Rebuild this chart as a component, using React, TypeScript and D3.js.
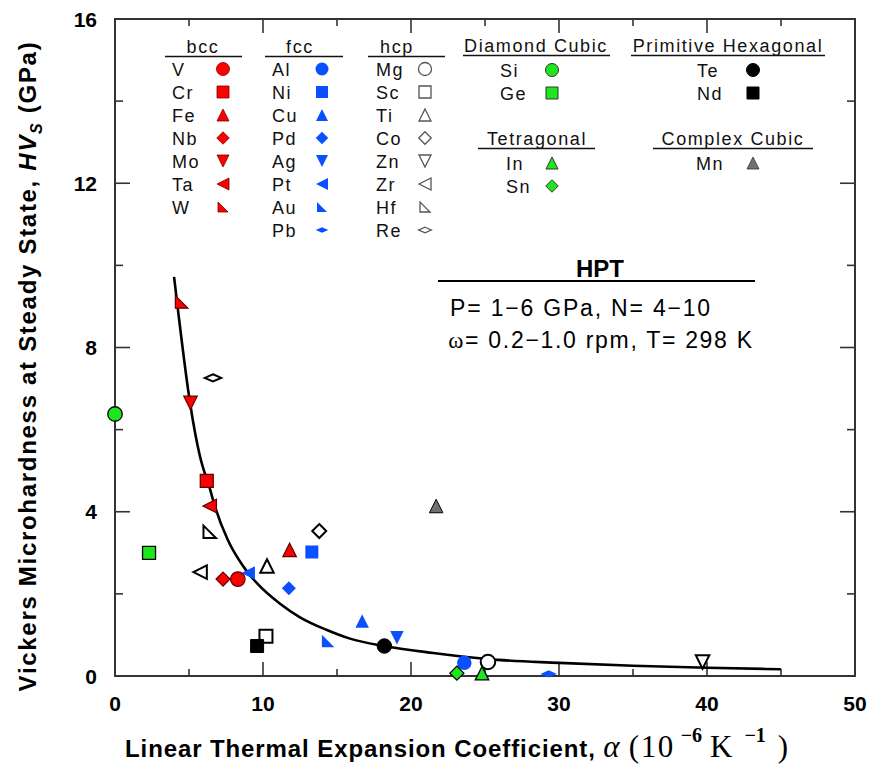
import React from "react";
import * as d3 from "d3";

// ---- data -------------------------------------------------------------
// Linear thermal expansion coefficient (10^-6 K^-1) and steady-state hardness (GPa)
const bccNames = ["V", "Cr", "Fe", "Nb", "Mo", "Ta", "W"];
const bccAlpha = [8.3, 6.2, 11.8, 7.3, 5.1, 6.4, 4.5];
const bccHV = [2.36, 4.75, 3.07, 2.36, 6.65, 4.14, 9.11];

const fccNames = ["Al", "Ni", "Cu", "Pd", "Ag", "Pt", "Au", "Pb"];
const fccAlpha = [23.6, 13.3, 16.7, 11.75, 19.05, 9.0, 14.4, 29.3];
const fccHV = [0.32, 3.02, 1.34, 2.14, 0.93, 2.51, 0.85, 0.05];

const hcpNames = ["Mg", "Sc", "Ti", "Co", "Zn", "Zr", "Hf", "Re"];
const hcpAlpha = [25.2, 10.2, 10.27, 13.8, 39.7, 5.75, 6.4, 6.62];
const hcpHV = [0.34, 0.97, 2.68, 3.53, 0.34, 2.53, 3.51, 7.26];

const diamondNames = ["Si", "Ge"];
const diamondAlpha = [0.0, 2.3];
const diamondHV = [6.38, 3.0];

const primHexNames = ["Te", "Nd"];
const primHexAlpha = [18.2, 9.6];
const primHexHV = [0.73, 0.73];

const tetragonalNames = ["In", "Sn"];
const tetragonalAlpha = [24.8, 23.1];
const tetragonalHV = [0.07, 0.07];

const complexCubicNames = ["Mn"];
const complexCubicAlpha = [21.7];
const complexCubicHV = [4.14];

// fitted trend line
const fitAlpha = [3.99, 4.26, 5.07, 5.74, 6.42, 6.76, 7.64, 8.65, 9.59, 11.15, 12.5, 14.32, 15.88, 18.18, 21.5, 25.2, 30, 35, 40, 45];
const fitHV = [9.72, 8.9, 6.65, 5.35, 4.55, 4.12, 3.3, 2.68, 2.26, 1.76, 1.43, 1.12, 0.91, 0.73, 0.56, 0.41, 0.32, 0.25, 0.2, 0.165];

const xTickValues = [0, 10, 20, 30, 40, 50];
const yTickValues = [0, 4, 8, 12, 16];

// ---- layout & style ------------------------------------------------------
const W = 874;
const H = 772;
const PLOT = { left: 115, right: 855, top: 19, bottom: 676 };

const RED = "#ff0000";
const BLUE = "#0a50ff";
const GREEN = "#1ee61e";
const GRAY = "#707070";

type Shape = "circle" | "square" | "triUp" | "diamond" | "triDown" | "triLeft" | "rightTri" | "flatDiamond";
const SHAPE_ORDER: Shape[] = ["circle", "square", "triUp", "diamond", "triDown", "triLeft", "rightTri", "flatDiamond"];

interface Style {
  fill: string;
  stroke: string;
  sw: number;
  legendStroke: string;
  legendSw: number;
}

const STYLE_RED: Style = { fill: RED, stroke: "#5a0000", sw: 1.2, legendStroke: "#7a0000", legendSw: 0.8 };
const STYLE_BLUE: Style = { fill: BLUE, stroke: "none", sw: 0, legendStroke: "none", legendSw: 0 };
const STYLE_OPEN: Style = { fill: "#ffffff", stroke: "#000000", sw: 2, legendStroke: "#555555", legendSw: 1.3 };
const STYLE_GREEN: Style = { fill: GREEN, stroke: "#000000", sw: 1.3, legendStroke: "#333333", legendSw: 1 };
const STYLE_BLACK: Style = { fill: "#000000", stroke: "#000000", sw: 1, legendStroke: "#000000", legendSw: 1 };
const STYLE_GRAY: Style = { fill: GRAY, stroke: "#000000", sw: 1, legendStroke: "#333333", legendSw: 0.8 };

function shapePath(shape: Shape, s: number): string {
  const h = s / 2;
  const p = d3.path();
  switch (shape) {
    case "circle":
      p.arc(0, 0, h, 0, Math.PI * 2);
      break;
    case "square":
      p.rect(-h, -h, s, s);
      break;
    case "triUp":
      p.moveTo(0, -h);
      p.lineTo(h, h);
      p.lineTo(-h, h);
      break;
    case "triDown":
      p.moveTo(-h, -h);
      p.lineTo(h, -h);
      p.lineTo(0, h);
      break;
    case "triLeft":
      p.moveTo(-h, 0);
      p.lineTo(h, -h);
      p.lineTo(h, h);
      break;
    case "diamond":
      p.moveTo(0, -h);
      p.lineTo(h, 0);
      p.lineTo(0, h);
      p.lineTo(-h, 0);
      break;
    case "rightTri":
      p.moveTo(-h, -h);
      p.lineTo(-h, h);
      p.lineTo(h, h);
      break;
    case "flatDiamond":
      p.moveTo(0, -s * 0.24);
      p.lineTo(s * 0.55, 0);
      p.lineTo(0, s * 0.24);
      p.lineTo(-s * 0.55, 0);
      break;
  }
  p.closePath();
  return p.toString();
}

const PLOT_SIZE: Record<Shape, number> = {
  circle: 14.5, square: 13, triUp: 13.5, diamond: 14, triDown: 13.5, triLeft: 13.5, rightTri: 12.5, flatDiamond: 15,
};
const LEGEND_SIZE: Record<Shape, number> = {
  circle: 13, square: 12, triUp: 12, diamond: 12.5, triDown: 12, triLeft: 12, rightTri: 10, flatDiamond: 11.5,
};

interface Group {
  title: string;
  names: string[];
  alpha: number[];
  hv: number[];
  shapes: Shape[];
  style: Style;
  // legend layout
  cx: number;
  lineY: number;
  titleY: number;
  ux1: number;
  ux2: number;
  labelX: number;
  markerX: number;
  rowY: number;
}

const groups: Group[] = [
  {
    title: "bcc", names: bccNames, alpha: bccAlpha, hv: bccHV, shapes: SHAPE_ORDER, style: STYLE_RED,
    cx: 203, titleY: 53, lineY: 56.5, ux1: 165, ux2: 242, labelX: 172, markerX: 223, rowY: 69,
  },
  {
    title: "fcc", names: fccNames, alpha: fccAlpha, hv: fccHV, shapes: SHAPE_ORDER, style: STYLE_BLUE,
    cx: 300, titleY: 53, lineY: 56.5, ux1: 265, ux2: 343, labelX: 272, markerX: 322, rowY: 69,
  },
  {
    title: "hcp", names: hcpNames, alpha: hcpAlpha, hv: hcpHV, shapes: SHAPE_ORDER, style: STYLE_OPEN,
    cx: 397, titleY: 53, lineY: 56.5, ux1: 368, ux2: 445, labelX: 376, markerX: 425, rowY: 69,
  },
  {
    title: "Diamond Cubic", names: diamondNames, alpha: diamondAlpha, hv: diamondHV, shapes: ["circle", "square"], style: STYLE_GREEN,
    cx: 536, titleY: 52, lineY: 55.5, ux1: 463, ux2: 610, labelX: 500, markerX: 552, rowY: 70,
  },
  {
    title: "Primitive Hexagonal", names: primHexNames, alpha: primHexAlpha, hv: primHexHV, shapes: ["circle", "square"], style: STYLE_BLACK,
    cx: 728, titleY: 52, lineY: 55.5, ux1: 631, ux2: 825, labelX: 697, markerX: 753, rowY: 70,
  },
  {
    title: "Tetragonal", names: tetragonalNames, alpha: tetragonalAlpha, hv: tetragonalHV, shapes: ["triUp", "diamond"], style: STYLE_GREEN,
    cx: 537, titleY: 145, lineY: 148.5, ux1: 478, ux2: 595, labelX: 506, markerX: 552, rowY: 163,
  },
  {
    title: "Complex Cubic", names: complexCubicNames, alpha: complexCubicAlpha, hv: complexCubicHV, shapes: ["triUp"], style: STYLE_GRAY,
    cx: 733, titleY: 145, lineY: 148.5, ux1: 653, ux2: 813, labelX: 696, markerX: 753, rowY: 163,
  },
];

const ROW_STEP = 23;
const SANS = "'Liberation Sans', Arial, sans-serif";
const SERIF = "'Liberation Serif', 'Times New Roman', serif";

export default function App() {
  const x = d3.scaleLinear().domain([0, 50]).range([PLOT.left, PLOT.right]);
  const y = d3.scaleLinear().domain([0, 16]).range([PLOT.bottom, PLOT.top]);

  const fitLine = d3
    .line<number>()
    .x((_, i) => x(fitAlpha[i]))
    .y((_, i) => y(fitHV[i]))
    .curve(d3.curveMonotoneX);

  const xMinor = d3.range(0, 50.01, 5);
  const yMinor = d3.range(0, 16.01, 2);

  // draw order: open markers first, filled on top
  const drawOrder = [2, 0, 1, 3, 4, 5, 6];

  return (
    <svg width={W} height={H} style={{ display: "block", position: "absolute", left: 0, top: 0 }} fontFamily={SANS}>
      <rect x={0} y={0} width={W} height={H} fill="#ffffff" />

      {/* ticks */}
      <g stroke="#333" strokeWidth={1.6}>
        {xMinor.map((v) => {
          const len = v % 10 === 0 ? 14 : 7;
          return (
            <g key={"xt" + v}>
              <line x1={x(v)} x2={x(v)} y1={PLOT.bottom} y2={PLOT.bottom - len} />
              <line x1={x(v)} x2={x(v)} y1={PLOT.top} y2={PLOT.top + len} />
            </g>
          );
        })}
        {yMinor.map((v) => {
          const len = v % 4 === 0 ? 15 : 8;
          return (
            <g key={"yt" + v}>
              <line x1={PLOT.left} x2={PLOT.left + len} y1={y(v)} y2={y(v)} />
              <line x1={PLOT.right} x2={PLOT.right - len} y1={y(v)} y2={y(v)} />
            </g>
          );
        })}
      </g>

      {/* frame */}
      <rect
        x={PLOT.left}
        y={PLOT.top}
        width={PLOT.right - PLOT.left}
        height={PLOT.bottom - PLOT.top}
        fill="none"
        stroke="#333"
        strokeWidth={2}
      />

      {/* tick labels */}
      <g fontWeight="bold" fontSize={21} fill="#000">
        {xTickValues.map((v) => (
          <text key={"xl" + v} x={x(v)} y={711} textAnchor="middle">
            {v}
          </text>
        ))}
        {yTickValues.map((v) => (
          <text key={"yl" + v} x={97} y={y(v) + 7.5} textAnchor="end">
            {v}
          </text>
        ))}
      </g>

      {/* axis titles */}
      <text x={125} y={757} textAnchor="start" fontWeight="bold" fontSize={24} fill="#000">
        <tspan letterSpacing={0.9}>Linear Thermal Expansion Coefficient, </tspan>
        <tspan fontFamily={SERIF} fontStyle="italic" fontWeight="normal" fontSize={31}>α</tspan>
        <tspan fontFamily={SERIF} fontWeight="normal" fontSize={31} letterSpacing={1.5}> (10</tspan>
        <tspan fontFamily={SERIF} fontWeight="bold" fontSize={20} dy={-15} dx={6}>−6</tspan>
        <tspan fontFamily={SERIF} fontWeight="normal" fontSize={31} dy={15} dx={8}>K</tspan>
        <tspan fontFamily={SERIF} fontWeight="bold" fontSize={20} dy={-15} dx={12}>−1</tspan>
        <tspan fontFamily={SERIF} fontWeight="normal" fontSize={31} dy={15} dx={12}>)</tspan>
      </text>
      <text
        transform="translate(36,366) rotate(-90)"
        textAnchor="middle"
        fontWeight="bold"
        fontSize={24}
        fill="#000"
        letterSpacing={1.7}
      >
        <tspan>Vickers Microhardness at Steady State, </tspan>
        <tspan fontStyle="italic">HV</tspan>
        <tspan fontStyle="italic" fontSize={16} dy={6}>S</tspan>
        <tspan dy={-6}> (GPa)</tspan>
      </text>

      {/* legend */}
      <g fontSize={18} fill="#111" letterSpacing={1.6}>
        {groups.map((g) => (
          <g key={"lg" + g.title}>
            <text x={g.cx} y={g.titleY} textAnchor="middle">
              {g.title}
            </text>
            <line x1={g.ux1} x2={g.ux2} y1={g.lineY} y2={g.lineY} stroke="#111" strokeWidth={1.6} />
            {g.names.map((n, i) => {
              const ry = g.rowY + i * ROW_STEP;
              const shape = g.shapes[i];
              return (
                <g key={"le" + n}>
                  <text x={g.labelX} y={ry + 6.5}>
                    {n}
                  </text>
                  <path
                    d={shapePath(shape, LEGEND_SIZE[shape])}
                    transform={`translate(${g.markerX},${ry})`}
                    fill={g.style.fill}
                    stroke={g.style.legendStroke}
                    strokeWidth={g.style.legendSw}
                  />
                </g>
              );
            })}
          </g>
        ))}
      </g>

      {/* HPT conditions */}
      <g fill="#000" textAnchor="middle">
        <text x={600} y={277} fontSize={24} fontWeight="bold">HPT</text>
        <line x1={438} x2={755} y1={281} y2={281} stroke="#000" strokeWidth={1.8} />
        <text x={581} y={316} fontSize={23} letterSpacing={1.8}>P= 1−6 GPa, N= 4−10</text>
        <text x={601} y={348} fontSize={23} letterSpacing={1.7}>
          <tspan fontFamily={SERIF}>ω</tspan>= 0.2−1.0 rpm, T= 298 K
        </text>
      </g>

      {/* trend line */}
      <path d={fitLine(fitAlpha) ?? ""} fill="none" stroke="#000" strokeWidth={2.6} />

      {/* data points */}
      <g>
        {drawOrder.map((gi) => {
          const g = groups[gi];
          return g.names.map((n, i) => {
            const shape = g.shapes[i];
            return (
              <path
                key={"pt" + n}
                d={shapePath(shape, PLOT_SIZE[shape])}
                transform={`translate(${x(g.alpha[i])},${y(g.hv[i])})`}
                fill={g.style.fill}
                stroke={g.style.stroke}
                strokeWidth={g.style.sw}
              />
            );
          });
        })}
      </g>
    </svg>
  );
}
